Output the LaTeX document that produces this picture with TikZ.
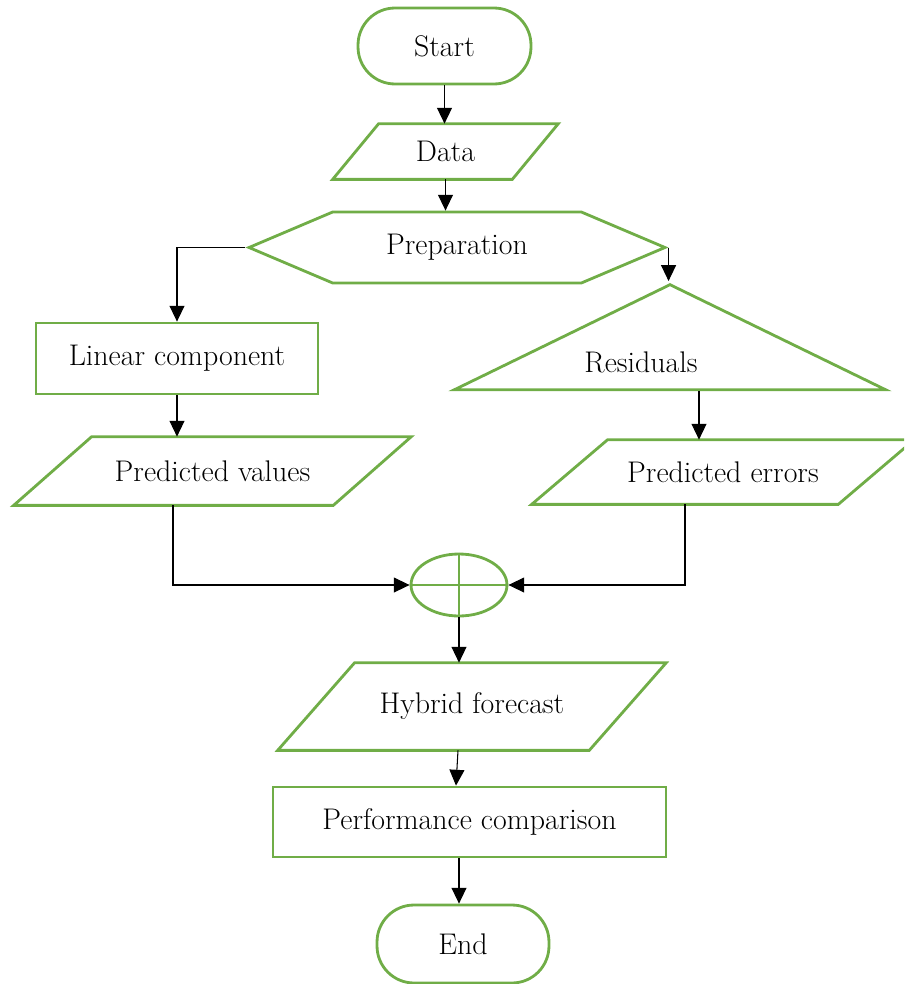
\documentclass[tikz,border=0pt]{standalone}
\usetikzlibrary{arrows.meta,positioning,calc,shapes.geometric,shapes.symbols}
\definecolor{flowgreen}{HTML}{70AD47}

\begin{document}
\begin{tikzpicture}[x=0.02cm, y=-0.02cm, >={Triangle[length=9pt, width=8.5pt]},
  every node/.style={font=\fontsize{17}{20}\selectfont, inner sep=2pt},
  box/.style={draw=flowgreen, line width=1.6pt},
  terminal/.style={box, rectangle, rounded corners=0.74cm},
  process/.style={box, rectangle},
  io/.style={rectangle},
  link/.style={->, line width=0.6pt, black}]
  \useasboundingbox (0,0) rectangle (904,984);
  \clip (0,0) rectangle (904,984);

  \node (start) [terminal, minimum width=3.46cm, minimum height=1.52cm] at (444.5,46) {Start};
  \node (data) [io, minimum width=4.5cm, minimum height=1.1cm] at (445.5,151.5) {Data};
  \node (prep) [box, signal, signal to=west and east, signal pointer angle=46,
    minimum width=8.32cm, minimum height=1.42cm] at (457,247.5) {Preparation};
  \node (res) [box, isosceles triangle, isosceles triangle stretches, shape border rotate=90,
    minimum width=8.62cm, minimum height=2.1cm, anchor=apex] at (670,281) {};
  \node (restext) at (641,362) {Residuals};
  \node (lin) [process, minimum width=5.64cm, minimum height=1.42cm] at (177,358.5) {Linear component};
  \node (pv) [io, minimum width=7.94cm, minimum height=1.36cm] at (212.5,471) {Predicted values};
  \node (pe) [io, minimum width=7.64cm, minimum height=1.28cm] at (723,472) {Predicted errors};
  \node (sum) [box, ellipse, minimum width=1.92cm, minimum height=1.24cm] at (459,585) {};
  \draw[box] (sum.north) -- (sum.south) (sum.west) -- (sum.east);
  \node (hyb) [io, minimum width=7.76cm, minimum height=1.74cm] at (472,706.5) {Hybrid forecast};
  \node (perf) [process, minimum width=7.86cm, minimum height=1.4cm] at (469.5,822) {Performance comparison};
  \node (end) [terminal, minimum width=3.44cm, minimum height=1.56cm] at (463,944) {End};

  \foreach \n/\s in {data/46, pv/78, pe/76, hyb/77}
    \draw[box] (\n.south west) -- ($(\n.north west)+(\s,0)$) -- (\n.north east)
      -- ($(\n.south east)+(-\s,0)$) -- cycle;

  \draw[link] (start.south) -- (data.north -| start.south);
  \draw[link] (data.south) -- (prep.north -| data.south);
  \draw[link] (prep.west) -| (lin.north);
  \draw[link] (prep.east) -- (prep.east |- res.apex);
  \draw[link] (lin.south) -- (pv.north -| lin.south);
  \draw[link] ($(res.lower side)+(29,0)$) -- ($(pe.north -| res.lower side)+(29,0)$);
  \draw[link] ($(pv.south -| lin.south)+(-4,0)$) |- (sum.west);
  \draw[link] ($(pe.south)+(-38,0)$) |- (sum.east);
  \draw[link] (sum.south) -- (hyb.north -| sum.south);
  \draw[link] ($(hyb.south -| sum.south)+(-1,0)$) -- ($(perf.north -| sum.south)+(-3,0)$);
  \draw[link] (perf.south -| sum.south) -- (end.north -| sum.south);
\end{tikzpicture}
\end{document}
